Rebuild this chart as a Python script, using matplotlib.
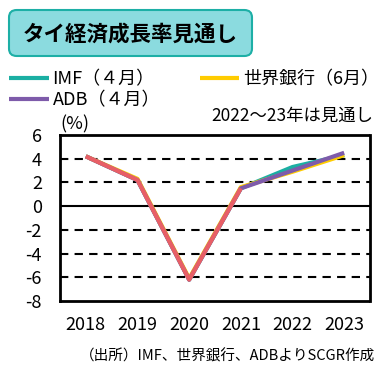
import matplotlib.pyplot as plt
from matplotlib.patches import FancyBboxPatch

plt.rcParams['font.family'] = ['Noto Sans CJK JP', 'DejaVu Sans']

years = ['2018', '2019', '2020', '2021', '2022', '2023']
imf = [4.2, 2.2, -6.2, 1.5, 3.3, 4.3]
wb = [4.2, 2.3, -6.1, 1.6, 2.9, 4.3]
adb = [4.2, 2.2, -6.2, 1.5, 3.0, 4.5]
actual = [4.2, 2.2, -6.2, 1.5]
yticks = [6, 4, 2, 0, -2, -4, -6, -8]

c_imf = '#1BAFA3'
c_wb = '#FFCC00'
c_adb = '#7E5BAA'
c_act = '#E85F66'

fig = plt.figure(figsize=(3.85, 3.72), dpi=100)
ax = fig.add_axes([60 / 385, 71 / 372, 310 / 385, 166 / 372])

x = range(len(years))
l_imf, = ax.plot(x, imf, color=c_imf, lw=3, solid_capstyle='butt', label='IMF（４月）')
l_wb, = ax.plot(x, wb, color=c_wb, lw=3, solid_capstyle='butt', label='世界銀行（6月）')
l_adb, = ax.plot(x, adb, color=c_adb, lw=3, solid_capstyle='butt', label='ADB（４月）')
ax.plot(range(len(actual)), actual, color=c_act, lw=3, solid_capstyle='butt')

ax.set_xlim(-0.5, len(years) - 0.5)
ax.set_ylim(-8, 6)
ax.set_xticks(list(x))
ax.set_xticklabels(years, fontsize=13)
ax.set_yticks(yticks)
ax.set_yticklabels([str(v) for v in yticks], fontsize=13)
ax.tick_params(length=0)
ax.tick_params(axis='x', pad=11)
ax.tick_params(axis='y', pad=13)

for v in yticks:
    if v == 0:
        ax.axhline(v, color='black', lw=1.5, zorder=1)
    elif v not in (6, -8):
        ax.axhline(v, color='black', lw=1.5, ls=(0, (4, 3)), zorder=1)

for s in ax.spines.values():
    s.set_linewidth(2)
    s.set_linestyle((0, (6, 1)))

ax.text(0.0, 1.01, '(%)', transform=ax.transAxes, fontsize=13, ha='left', va='bottom')
ax.text(1.01, 1.06, '2022～23年は見通し', transform=ax.transAxes, fontsize=12.5,
        ha='right', va='bottom')

# title box
box = FancyBboxPatch((9 / 385, 316 / 372), 243 / 385, 46 / 372,
                     boxstyle='round,pad=0,rounding_size=0.02',
                     transform=fig.transFigure, facecolor='#8BDBDF',
                     edgecolor='#1DAFA6', lw=1.5)
fig.patches.append(box)
fig.text(130 / 385, 338 / 372, 'タイ経済成長率見通し', fontsize=15.5, fontweight='bold',
         ha='center', va='center')

fig.legend(handles=[l_imf, l_adb, l_wb], ncol=2, loc='upper left',
           bbox_to_anchor=(0.005, 0.83), frameon=False, fontsize=13,
           handlelength=2.2, handletextpad=0.2, columnspacing=2.2,
           labelspacing=0.15, borderaxespad=0)

fig.text(375 / 385, 16 / 372, '（出所）IMF、世界銀行、ADBよりSCGR作成', fontsize=10.5,
         ha='right', va='center')

fig.savefig('out.png', dpi=100)
